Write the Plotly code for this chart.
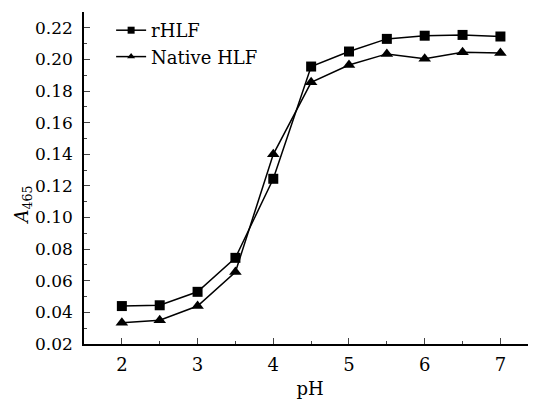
import plotly.graph_objects as go

ph = [2, 2.5, 3, 3.5, 4, 4.5, 5, 5.5, 6, 6.5, 7]
rhlf = [0.044, 0.0445, 0.053, 0.0745, 0.1245, 0.1955, 0.205, 0.213, 0.215, 0.2155, 0.2145]
native = [0.0335, 0.035, 0.044, 0.0655, 0.140, 0.1855, 0.1965, 0.2035, 0.2005, 0.2045, 0.204]
names = ["rHLF", "Native HLF"]
xticks = [2, 3, 4, 5, 6, 7]
yticks = [0.02, 0.04, 0.06, 0.08, 0.10, 0.12, 0.14, 0.16, 0.18, 0.20, 0.22]

font = "DejaVu Serif"
fs = 17
fig = go.Figure()
for ys, sym, nm in [(rhlf, "square", names[0]), (native, "triangle-up", names[1])]:
    fig.add_trace(go.Scatter(x=ph, y=ys, mode="lines+markers", showlegend=False,
                             line=dict(color="black", width=1.5),
                             marker=dict(symbol=sym, size=10 if sym == "square" else 11, color="black")))
    fig.add_trace(go.Scatter(x=[None], y=[None], mode="lines+markers", name=nm,
                             line=dict(color="black", width=1.5),
                             marker=dict(symbol=sym, size=7, color="black")))

fig.add_annotation(text="<i>A</i><sub>465</sub>", xref="paper", yref="paper",
                   x=-0.135, y=0.42, xanchor="center", yanchor="middle", textangle=-90,
                   showarrow=False, font=dict(size=fs + 1, family=font, color="black"))

fig.update_layout(
    width=528, height=397,
    margin=dict(l=76, r=0, t=4, b=61),
    paper_bgcolor="white", plot_bgcolor="white",
    font=dict(family=font, size=fs, color="black"),
    legend=dict(x=0.06, y=1.0, xanchor="left", yanchor="top", bgcolor="rgba(0,0,0,0)",
                font=dict(size=fs + 1, family=font), tracegroupgap=0, itemwidth=30),
    xaxis=dict(range=[1.5, 7.47], tickvals=xticks, ticks="inside", ticklen=6, tickwidth=1.3,
               showline=True, linecolor="black", linewidth=1.5, showgrid=False, zeroline=False,
               minor=dict(dtick=0.5, tick0=1.5, ticks="inside", ticklen=3, tickwidth=1.3),
               ticklabelstandoff=4,
               title=dict(text="pH", standoff=8, font=dict(size=fs + 1, family=font)),
               tickfont=dict(size=fs + 1, family=font)),
    yaxis=dict(range=[0.02, 0.23], tickvals=yticks, tickformat=".2f", ticks="inside", ticklen=6,
               tickwidth=1.3, showline=True, linecolor="black", linewidth=1.5, showgrid=False,
               zeroline=False, ticklabelstandoff=6,
               minor=dict(dtick=0.01, tick0=0.02, ticks="inside", ticklen=3, tickwidth=1.3),
               tickfont=dict(size=fs, family=font)),
)
fig.write_html("out.html")
